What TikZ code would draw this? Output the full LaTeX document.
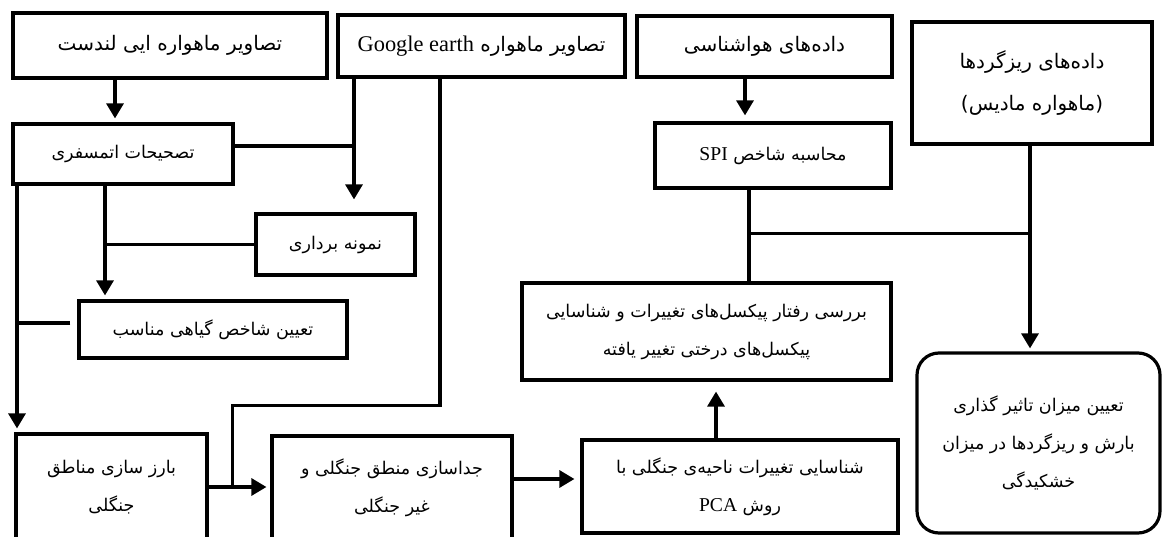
\documentclass[tikz,border=0pt]{standalone}
\usepackage{fontspec}
\setmainfont{Liberation Serif}
\newfontfamily\fa[Script=Arabic]{DejaVu Sans}
\newfontfamily\lt[Scale=1.12]{Liberation Serif}
\TeXXeTstate=1
\usetikzlibrary{arrows.meta,calc}
\newcommand{\faline}[1]{{\fa\beginR #1\endR}}
\newcommand{\lat}[1]{{\lt\beginL #1\endL}}
\begin{document}
\begin{tikzpicture}[x=1pt,y=-1pt,
  box/.style={draw, line width=3.2pt, inner sep=0pt, align=center},
  ln/.style={line width=3.2pt},
  arr/.style={line width=3.2pt, -{Triangle[width=17pt,length=15pt]}, shorten >=4pt},
  big/.style={font=\fontsize{20pt}{42pt}\selectfont},
  sm/.style={font=\fontsize{17.5pt}{38pt}\selectfont}]
\useasboundingbox (0,0) rectangle (1162,537);
\clip (0,0) rectangle (1162,537);
% top row
\node[box,big,minimum width=314pt,minimum height=65pt] (A) at (170,45.5) {\faline{تصاویر ماهواره ایی لندست}};
\node[box,big,minimum width=287pt,minimum height=62pt] (B) at (481.5,46) {\faline{تصاویر ماهواره \lat{Google earth}}};
\node[box,big,minimum width=255pt,minimum height=61pt] (C) at (764.5,46.5) {\faline{داده‌های هواشناسی}};
\node[box,big,minimum width=240pt,minimum height=122pt] (D) at (1032,83) {\faline{داده‌های ریزگردها}\\\faline{(ماهواره مادیس)}};
\node[box,sm,minimum width=236pt,minimum height=65pt] (SPI) at (773,155.5) {\faline{محاسبه شاخص \lat{SPI}}};
\node[box,sm,minimum width=220pt,minimum height=60pt] (E) at (123,154) {\faline{تصحیحات اتمسفری}};
\node[box,sm,minimum width=159pt,minimum height=61pt] (N) at (335.5,244.5) {\faline{نمونه برداری}};
\node[box,sm,minimum width=268pt,minimum height=57pt] (T) at (213,329.5) {\faline{تعیین شاخص گیاهی مناسب}};
\node[box,sm,minimum width=369pt,minimum height=97pt] (R) at (706.5,331.5) {\faline{بررسی رفتار پیکسل‌های تغییرات و شناسایی}\\\faline{پیکسل‌های درختی تغییر یافته}};
\node[box,sm,minimum width=191pt,minimum height=106pt] (BZ) at (111.5,487) {\faline{بارز سازی مناطق}\\\faline{جنگلی}};
\node[box,sm,minimum width=240pt,minimum height=104pt] (J) at (392,488) {\faline{جداسازی منطق جنگلی و}\\\faline{غیر جنگلی}};
\node[box,sm,minimum width=316pt,minimum height=93pt] (S) at (740,486.5) {\faline{شناسایی تغییرات ناحیه‌ی جنگلی با}\\\faline{روش \lat{PCA}}};
\node[box,sm,rounded corners=22pt,minimum width=243pt,minimum height=180pt] (F) at (1038.5,443) {\faline{تعیین میزان تاثیر گذاری}\\\faline{بارش و ریزگردها در میزان}\\\faline{خشکیدگی}};
% connectors
\draw[arr] ([xshift=-55pt]A.south) -- ([xshift=-55pt]A.south |- E.north);
\coordinate (g1) at ([xshift=-127.5pt]B.south);
\draw[arr,shorten >=13pt] (g1) -- (g1 |- N.north);
\draw[ln] ([yshift=8pt]E.east) -- ([yshift=8pt]E.east -| g1);
\coordinate (e2) at ([xshift=-18pt]E.south);
\draw[arr] (e2) -- (e2 |- T.north);
\draw[ln] (N.west) -- (N.west -| e2);
\coordinate (e1) at ([xshift=-106pt]E.south);
\draw[arr] (e1) -- (e1 |- BZ.north);
\coordinate (tw) at ([shift={(-7pt,6.5pt)}]T.west);
\draw[ln] (tw) -- (tw -| e1);
\draw[arr] (BZ.east) -- (BZ.east -| J.west);
\coordinate (g2) at ([xshift=-41.5pt]B.south);
\draw[ln] (g2) -- ++(0,327) -| ([xshift=24pt]BZ.east);
\draw[arr,shorten >=6pt] ([yshift=9pt]J.east) -- ([yshift=9pt]J.east -| S.west);
\draw[arr,shorten >=10pt] ([xshift=-24pt]S.north) -- ([xshift=-24pt]S.north |- R.south);
\draw[arr,shorten >=6pt] ([xshift=-19.5pt]C.south) -- ([xshift=-19.5pt]C.south |- SPI.north);
\coordinate (s1) at ([xshift=-24pt]SPI.south);
\draw[ln] (s1) -- (s1 |- R.north);
\coordinate (jn) at ([yshift=-44pt]s1);
\draw[ln] (jn) -- (jn -| D.south);
\draw[arr,shorten >=3pt] ([xshift=-2pt]D.south) -- ([xshift=-2pt]D.south |- F.north);
\end{tikzpicture}
\end{document}
